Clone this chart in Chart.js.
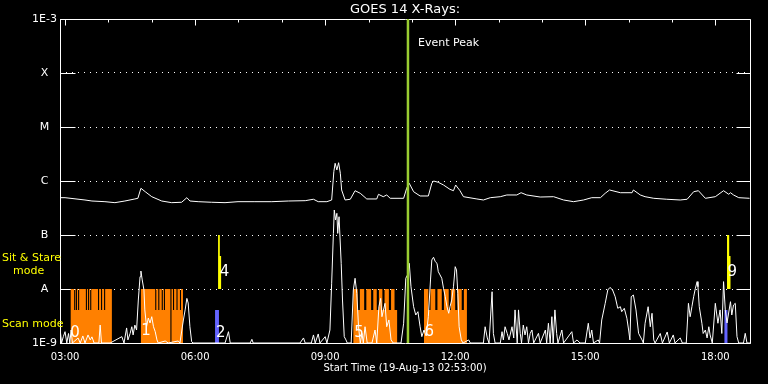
<!DOCTYPE html>
<html>
<head>
<meta charset="utf-8">
<title>GOES 14 X-Rays</title>
<script src="https://cdn.jsdelivr.net/npm/chart.js@4.4.0/dist/chart.umd.min.js"></script>
<style>
  html, body { margin: 0; background: #000; }
</style>
</head>
<body>
<canvas id="goes" width="768" height="384"></canvas>
<script>
// time axis is in hours (UT) of 19-Aug-13, flux in W/m^2
const xMin = 2 + 53 / 60; // 02:53
const xMax = 18.8;
const yMin = 1e-9;
const yMax = 1e-3;

const xTickHours = [3, 6, 9, 12, 15, 18];
const yTickLabels = ["1E-9", "A", "B", "C", "M", "X", "1E-3"];

// 1.0-8.0 A channel [hour, flux]
const longChannel = [
  [2.88, 4.91e-7], [3.00, 4.91e-7], [3.46, 4.45e-7], [3.62, 4.26e-7], [3.92, 4.14e-7],
  [4.15, 3.97e-7], [4.38, 4.26e-7], [4.61, 4.65e-7], [4.68, 4.78e-7], [4.75, 7.33e-7],
  [4.85, 6.33e-7], [5.00, 5.12e-7], [5.23, 4.26e-7], [5.46, 3.97e-7], [5.69, 4.04e-7],
  [5.81, 4.91e-7], [5.88, 4.26e-7], [6.07, 4.14e-7], [6.38, 4.04e-7], [6.69, 3.97e-7],
  [6.99, 4.14e-7], [7.38, 4.14e-7], [7.77, 4.14e-7], [8.15, 4.26e-7], [8.54, 4.32e-7],
  [8.73, 4.59e-7], [8.84, 4.14e-7], [9.04, 4.14e-7], [9.15, 4.45e-7], [9.20, 1.49e-6],
  [9.23, 2.13e-6], [9.27, 1.60e-6], [9.31, 2.18e-6], [9.35, 1.39e-6], [9.38, 6.82e-7],
  [9.46, 4.45e-7], [9.58, 4.59e-7], [9.69, 6.61e-7], [9.81, 5.92e-7], [9.96, 4.65e-7],
  [10.19, 4.65e-7], [10.23, 5.67e-7], [10.34, 5.12e-7], [10.42, 5.51e-7], [10.50, 4.78e-7],
  [10.81, 4.78e-7], [10.88, 7.33e-7], [10.94, 9.06e-7], [11.04, 6.33e-7], [11.19, 5.28e-7],
  [11.38, 5.28e-7], [11.46, 9.06e-7], [11.50, 1.0e-6], [11.61, 9.46e-7], [11.73, 8.43e-7],
  [11.88, 7.0e-7], [11.96, 6.61e-7], [12.01, 8.43e-7], [12.11, 6.61e-7], [12.19, 5.12e-7],
  [12.50, 4.65e-7], [12.65, 4.45e-7], [12.81, 4.91e-7], [13.04, 5.12e-7], [13.19, 5.51e-7],
  [13.42, 5.51e-7], [13.52, 6.07e-7], [13.65, 5.51e-7], [13.96, 5.05e-7], [14.27, 5.12e-7],
  [14.50, 4.45e-7], [14.73, 4.14e-7], [14.96, 4.45e-7], [15.15, 4.91e-7], [15.35, 4.91e-7],
  [15.46, 5.92e-7], [15.56, 6.82e-7], [15.81, 6.07e-7], [16.08, 6.07e-7], [16.11, 6.82e-7],
  [16.27, 5.51e-7], [16.38, 5.12e-7], [16.58, 4.78e-7], [16.88, 4.59e-7], [17.19, 4.45e-7],
  [17.35, 4.59e-7], [17.50, 6.33e-7], [17.61, 6.61e-7], [17.77, 4.78e-7], [18.00, 5.12e-7],
  [18.19, 6.61e-7], [18.31, 5.67e-7], [18.35, 6.07e-7], [18.42, 5.51e-7], [18.54, 4.91e-7],
  [18.79, 4.78e-7]
];

// 0.5-4.0 A channel [hour, flux], floor at 1E-9
const shortChannel = [
  [2.88, 2.0e-9], [2.92, 1e-9], [2.96, 1.31e-9], [3.00, 1.62e-9], [3.04, 1e-9], [3.08, 1.5e-9],
  [3.11, 1e-9], [3.14, 1.74e-9], [3.17, 1e-9], [3.30, 1.24e-9], [3.35, 1e-9], [3.41, 1.35e-9],
  [3.46, 1e-9], [3.53, 1.41e-9], [3.58, 1.14e-9], [3.62, 1.3e-9], [3.67, 1e-9], [3.78, 1e-9],
  [3.81, 2.15e-9], [3.84, 1e-9], [4.04, 1e-9], [4.31, 1.31e-9], [4.36, 1e-9], [4.42, 1.9e-9],
  [4.45, 1.14e-9], [4.50, 1.5e-9], [4.54, 2.0e-9], [4.57, 1.41e-9], [4.61, 2.15e-9], [4.65, 1.74e-9],
  [4.69, 6.25e-9], [4.73, 1.69e-8], [4.75, 2.15e-8], [4.78, 1.47e-8], [4.82, 9.6e-9], [4.84, 4.1e-9],
  [4.88, 2.0e-9], [4.92, 2.9e-9], [4.96, 2.35e-9], [5.00, 3.07e-9], [5.04, 2.0e-9], [5.08, 1.62e-9],
  [5.12, 1.14e-9], [5.15, 1e-9], [5.31, 1.09e-9], [5.38, 1e-9], [5.61, 1.09e-9], [5.65, 1e-9],
  [5.73, 2.67e-9], [5.77, 4.1e-9], [5.81, 6.7e-9], [5.84, 5.5e-9], [5.88, 2.0e-9], [5.92, 1.06e-9],
  [5.95, 1e-9], [6.69, 1e-9], [6.77, 1.62e-9], [6.81, 1e-9], [7.27, 1e-9], [7.31, 1.17e-9],
  [7.34, 1e-9], [8.42, 1e-9], [8.50, 1.24e-9], [8.54, 1e-9], [8.68, 1e-9], [8.73, 1.41e-9],
  [8.77, 1e-9], [8.84, 1.47e-9], [8.88, 1e-9], [9.00, 1.31e-9], [9.04, 1e-9], [9.11, 1.74e-9],
  [9.15, 1.28e-8], [9.19, 1.07e-7], [9.21, 2.9e-7], [9.24, 1.9e-7], [9.27, 2.52e-7], [9.29, 1.07e-7],
  [9.32, 2.18e-7], [9.37, 2.99e-8], [9.40, 6.25e-9], [9.44, 1.31e-9], [9.48, 1.14e-9], [9.51, 1e-9],
  [9.60, 1e-9], [9.65, 9.6e-9], [9.69, 1.58e-8], [9.73, 8.3e-9], [9.77, 2.0e-9], [9.81, 1e-9],
  [9.85, 1.5e-9], [9.88, 1e-9], [9.92, 2.0e-9], [9.97, 1e-9], [10.08, 1e-9], [10.15, 1.74e-9],
  [10.19, 1e-9], [10.24, 4.7e-9], [10.28, 6.7e-9], [10.31, 3.07e-9], [10.38, 5.43e-9], [10.42, 2.0e-9],
  [10.47, 2.67e-9], [10.52, 1.14e-9], [10.57, 1e-9], [10.75, 1e-9], [10.81, 2.32e-9], [10.86, 1.58e-8],
  [10.90, 1.82e-8], [10.94, 2.99e-8], [10.98, 1.1e-8], [11.04, 4.7e-9], [11.09, 3.3e-9], [11.14, 3.8e-9],
  [11.19, 2.0e-9], [11.23, 1.31e-9], [11.28, 1.74e-9], [11.33, 1.35e-9], [11.38, 3.07e-9], [11.43, 1.47e-8],
  [11.46, 3.45e-8], [11.50, 3.87e-8], [11.54, 3.21e-8], [11.58, 2.99e-8], [11.61, 2.09e-8], [11.65, 1.82e-8],
  [11.69, 1.58e-8], [11.73, 1.03e-8], [11.77, 7.2e-9], [11.81, 4.7e-9], [11.85, 3.55e-9], [11.88, 4.7e-9],
  [11.92, 6.25e-9], [11.96, 1.1e-8], [12.00, 2.59e-8], [12.03, 2.25e-8], [12.06, 8.3e-9], [12.09, 2.0e-9],
  [12.14, 1.14e-9], [12.18, 1e-9], [12.31, 1.14e-9], [12.35, 1e-9], [12.65, 1e-9], [12.69, 2.0e-9],
  [12.74, 1.24e-9], [12.78, 1e-9], [12.85, 8.9e-9], [12.88, 1.5e-9], [12.92, 1e-9], [13.04, 1e-9],
  [13.08, 1.62e-9], [13.11, 1.14e-9], [13.15, 2.0e-9], [13.20, 1.5e-9], [13.24, 1.14e-9], [13.31, 2.0e-9],
  [13.35, 1.24e-9], [13.38, 4.1e-9], [13.43, 1e-9], [13.46, 4.1e-9], [13.50, 1.51e-9], [13.53, 1e-9],
  [13.57, 2.15e-9], [13.61, 1.41e-9], [13.65, 2.0e-9], [13.69, 1e-9], [13.73, 1.51e-9], [13.77, 1.74e-9],
  [13.81, 1e-9], [13.92, 1.51e-9], [13.96, 1e-9], [14.08, 1.74e-9], [14.11, 1e-9], [14.15, 2.32e-9],
  [14.19, 1e-9], [14.23, 3.07e-9], [14.26, 1e-9], [14.30, 4.1e-9], [14.34, 1.5e-9], [14.37, 1e-9],
  [14.46, 1.74e-9], [14.50, 1e-9], [14.69, 1.62e-9], [14.73, 1e-9], [14.81, 1.14e-9], [14.88, 1e-9],
  [15.00, 1e-9], [15.07, 2.32e-9], [15.11, 1.24e-9], [15.15, 1.74e-9], [15.19, 1e-9], [15.30, 1.14e-9],
  [15.33, 1e-9], [15.38, 2.67e-9], [15.46, 5.43e-9], [15.52, 9.6e-9], [15.57, 1.07e-8], [15.63, 9.6e-9],
  [15.69, 7.2e-9], [15.75, 4.39e-9], [15.81, 4.7e-9], [15.84, 3.8e-9], [15.90, 4.39e-9], [15.96, 2.87e-9],
  [16.00, 1.74e-9], [16.03, 1.14e-9], [16.06, 7.2e-9], [16.11, 7.74e-9], [16.17, 4.1e-9], [16.23, 1.51e-9],
  [16.31, 1.14e-9], [16.34, 1e-9], [16.38, 2.32e-9], [16.45, 4.7e-9], [16.50, 2.0e-9], [16.54, 3.55e-9],
  [16.58, 1.14e-9], [16.61, 1e-9], [16.73, 1.5e-9], [16.78, 1e-9], [16.89, 1.6e-9], [16.94, 1e-9],
  [17.03, 1.41e-9], [17.07, 1e-9], [17.19, 1.24e-9], [17.24, 1e-9], [17.33, 1e-9], [17.38, 5.43e-9],
  [17.42, 3.07e-9], [17.46, 4.7e-9], [17.50, 7.2e-9], [17.54, 1.03e-8], [17.58, 1.37e-8], [17.60, 1.1e-8],
  [17.63, 4.7e-9], [17.69, 2.32e-9], [17.72, 1.5e-9], [17.77, 1.74e-9], [17.81, 1.24e-9], [17.85, 2.0e-9],
  [17.88, 1.41e-9], [17.93, 1e-9], [18.00, 5.43e-9], [18.06, 2.32e-9], [18.11, 4.1e-9], [18.15, 1.5e-9],
  [18.19, 1.37e-8], [18.23, 4.1e-9], [18.27, 2.35e-9], [18.35, 5.82e-9], [18.38, 3.3e-9], [18.42, 5.05e-9],
  [18.46, 5.43e-9], [18.50, 1.31e-9], [18.54, 1e-9], [18.65, 1e-9], [18.69, 1.51e-9], [18.73, 1e-9],
  [18.80, 1e-9]
];

// scan mode periods [start, end] and the short dips inside them
const scanBlocks = [[3.13, 4.08], [4.75, 5.72], [9.65, 10.66], [11.28, 12.27]];
const scanSlits = [
  [3.21, 3.235], [3.25, 3.275], [3.30, 3.325], [3.48, 3.505], [3.53, 3.555], [3.58, 3.605],
  [3.76, 3.785], [3.83, 3.855], [3.90, 3.925],
  [5.08, 5.105], [5.15, 5.175], [5.23, 5.255], [5.28, 5.305], [5.49, 5.515], [5.57, 5.595], [5.65, 5.675],
  [9.75, 9.80], [9.90, 9.95], [10.06, 10.11], [10.19, 10.24], [10.32, 10.37], [10.47, 10.52], [10.60, 10.66],
  [11.38, 11.43], [11.54, 11.59], [11.69, 11.74], [11.85, 11.90], [12.00, 12.05], [12.15, 12.20]
];
const scanBreaks = [[5.43, 5.455]];
const scanTop = 1e-8;
const scanLow = 4.1e-9;

// sit & stare markers [start, end, level]
const stareBlue = [[6.46, 6.55, 4.1e-9], [18.21, 18.28, 4.1e-9]];
const stareYellow = [[6.53, 6.57, 1e-7], [6.57, 6.60, 4.1e-8], [18.27, 18.32, 1e-7], [18.32, 18.35, 4.1e-8]];
const stareBase = 1e-8;

const eventPeak = 10.91;

// pointing numbers [text, hour, flux]
const segLabels = [
  ["0", 3.23, 1.53e-9], ["1", 4.87, 1.67e-9], ["2", 6.59, 1.53e-9], ["4", 6.68, 2.02e-8],
  ["5", 9.78, 1.53e-9], ["6", 11.40, 1.56e-9], ["9", 18.39, 2.02e-8]
];

const fontFamily = "'DejaVu Sans', sans-serif";
Chart.defaults.font.family = fontFamily;

const toPts = arr => arr.map(([x, y]) => ({ x, y }));

function steps(blocks, base) {
  const pts = [{ x: xMin, y: base }];
  blocks.forEach(([a, b, top]) => {
    pts.push({ x: a, y: top }, { x: b, y: base });
  });
  pts.push({ x: xMax, y: base });
  return pts;
}

function scanSteps() {
  const cuts = scanSlits.map(([a, b]) => [a, b, scanLow])
    .concat(scanBreaks.map(([a, b]) => [a, b, yMin]))
    .sort((p, q) => p[0] - q[0]);
  const pts = [{ x: xMin, y: yMin }];
  scanBlocks.forEach(([a, b]) => {
    pts.push({ x: a, y: scanTop });
    cuts.filter(c => c[0] >= a && c[0] < b).forEach(([c0, c1, lvl]) => {
      pts.push({ x: c0, y: lvl }, { x: Math.min(c1, b), y: scanTop });
    });
    pts.push({ x: b, y: yMin });
  });
  pts.push({ x: xMax, y: yMin });
  return pts;
}

// box, decade ticks and hour ticks
const frame = {
  id: "frame",
  beforeDatasetsDraw(chart) {
    const { ctx, chartArea: a, scales: { x, y } } = chart;
    const L = Math.round(a.left) + 0.5, R = Math.round(a.right) + 0.5;
    const T = Math.round(a.top) + 0.5, B = Math.round(a.bottom) + 0.5;
    ctx.save();
    ctx.strokeStyle = "#fff";
    ctx.lineWidth = 1;
    ctx.beginPath();
    ctx.rect(L, T, R - L, B - T);
    y.ticks.forEach(t => {
      const py = Math.round(y.getPixelForValue(t.value)) + 0.5;
      ctx.moveTo(L, py); ctx.lineTo(L + 15, py);
      ctx.moveTo(R - 14, py); ctx.lineTo(R, py);
    });
    for (let h = Math.ceil(xMin); h <= xMax; h++) {
      const px = Math.round(x.getPixelForValue(h)) + 0.5;
      ctx.moveTo(px, T); ctx.lineTo(px, T + (h % 3 === 0 ? 6 : 3));
    }
    ctx.stroke();
    ctx.restore();
  }
};

const notes = {
  id: "notes",
  afterDatasetsDraw(chart) {
    const { ctx, chartArea: a, scales: { x, y } } = chart;
    ctx.save();
    ctx.textBaseline = "middle";
    ctx.textAlign = "left";
    ctx.fillStyle = "#ffff00";
    ctx.font = "11px " + fontFamily;
    ctx.fillText("Sit & Stare", 2, y.getPixelForValue(3.75e-8));
    ctx.fillText("mode", 13, y.getPixelForValue(2.15e-8));
    ctx.fillText("Scan mode", 2, y.getPixelForValue(2.25e-9));

    ctx.fillStyle = "#fff";
    ctx.fillText("Event Peak", x.getPixelForValue(eventPeak) + 10, a.top + 24);

    ctx.textAlign = "center";
    ctx.font = "15px " + fontFamily;
    segLabels.forEach(([txt, h, v]) => {
      ctx.fillText(txt, x.getPixelForValue(h), y.getPixelForValue(v));
    });
    ctx.restore();
  }
};

new Chart(document.getElementById("goes"), {
  type: "line",
  data: {
    datasets: [
      {
        label: "Event Peak",
        data: [{ x: eventPeak, y: yMin }, { x: eventPeak, y: yMax }],
        borderColor: "rgb(154, 205, 50)",
        borderWidth: 2.5,
      },
      {
        label: "0.5-4.0 A",
        data: toPts(shortChannel),
        borderColor: "#fff",
        borderWidth: 1,
      },
      {
        label: "1.0-8.0 A",
        data: toPts(longChannel),
        borderColor: "#fff",
        borderWidth: 1,
      },
      {
        label: "Sit & Stare",
        data: steps(stareYellow, stareBase),
        stepped: true,
        fill: { value: stareBase },
        backgroundColor: "rgb(255, 255, 0)",
        borderColor: "rgba(0, 0, 0, 0)",
      },
      {
        label: "Stare start",
        data: steps(stareBlue, yMin),
        stepped: true,
        fill: "start",
        backgroundColor: "rgb(100, 100, 255)",
        borderColor: "rgba(0, 0, 0, 0)",
      },
      {
        label: "Scan mode",
        data: scanSteps(),
        stepped: true,
        fill: "start",
        backgroundColor: "rgb(255, 128, 0)",
        borderColor: "rgba(0, 0, 0, 0)",
      },
    ],
  },
  options: {
    responsive: false,
    animation: false,
    layout: { padding: { right: 18 }, autoPadding: false },
    elements: { point: { radius: 0 }, line: { tension: 0 } },
    plugins: {
      legend: { display: false },
      tooltip: { enabled: false },
      title: {
        display: true,
        text: "GOES 14 X-Rays:",
        color: "#fff",
        fullSize: false,
        font: { size: 13, weight: "normal", lineHeight: "16px" },
        padding: { top: 2, bottom: 1 },
      },
    },
    scales: {
      x: {
        type: "linear",
        min: xMin,
        max: xMax,
        afterBuildTicks: s => { s.ticks = xTickHours.map(v => ({ value: v })); },
        afterFit: s => { s.height = 41; },
        grid: { display: false, drawTicks: false },
        border: { display: false },
        ticks: {
          color: "#fff",
          font: { size: 10 },
          padding: 8,
          maxRotation: 0,
          autoSkip: false,
          callback: v => (v < 10 ? "0" : "") + v + ":00",
        },
        title: {
          display: true,
          text: "Start Time (19-Aug-13 02:53:00)",
          color: "#fff",
          font: { size: 10 },
          padding: { top: 0, bottom: 10 },
        },
      },
      y: {
        type: "logarithmic",
        min: yMin,
        max: yMax,
        afterBuildTicks: s => { s.ticks = yTickLabels.map((_, i) => ({ value: Math.pow(10, i - 9) })); },
        afterFit: s => { s.width = 60; },
        grid: { color: "#fff", drawTicks: false },
        border: { display: false, dash: [1, 5] },
        ticks: {
          color: "#fff",
          font: { size: 11 },
          padding: 3,
          crossAlign: "center",
          callback: v => yTickLabels[Math.round(Math.log10(v)) + 9],
        },
      },
    },
  },
  plugins: [frame, notes],
});
</script>
</body>
</html>
